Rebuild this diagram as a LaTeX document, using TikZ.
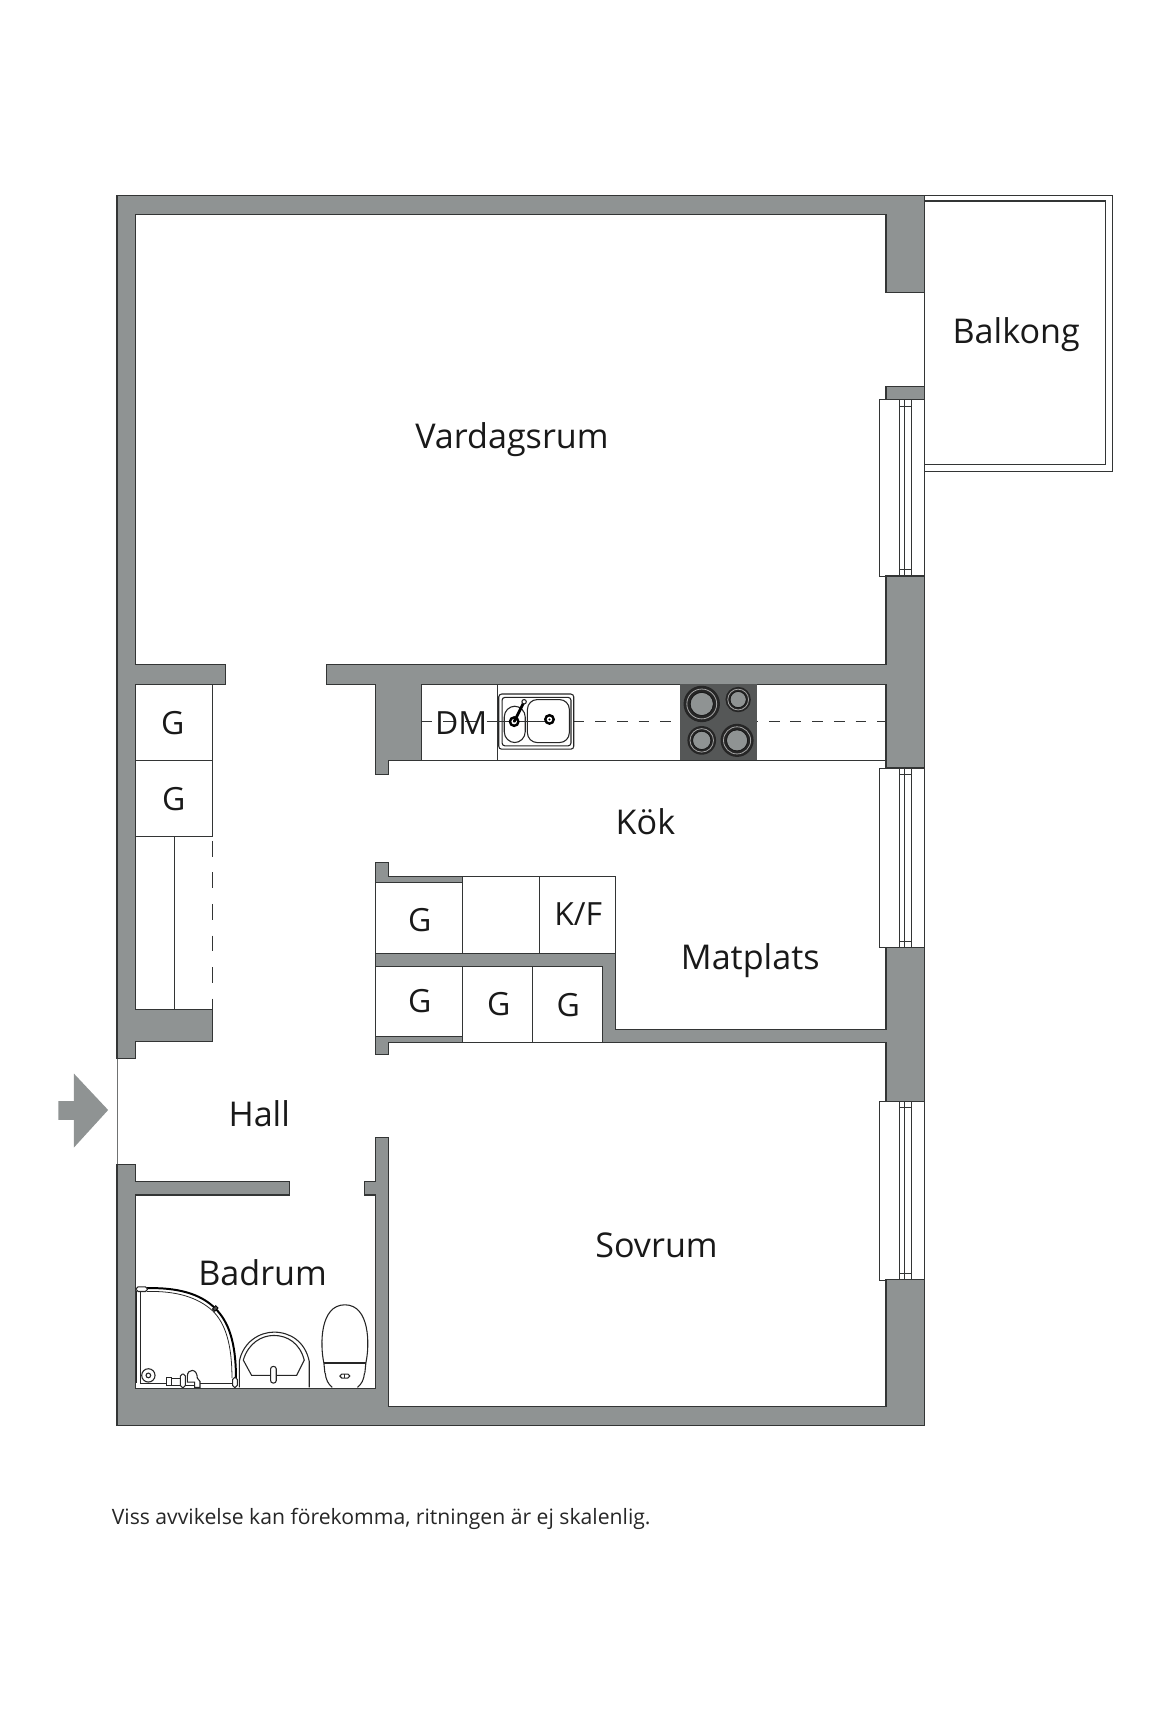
\documentclass[tikz,border=0pt]{standalone}
\usepackage{fontspec}
\setmainfont{Open Sans}
\definecolor{wallgray}{HTML}{8F9393}
\definecolor{wallline}{HTML}{333535}
\definecolor{hobdark}{HTML}{555757}
\tikzset{
  wall/.style={fill=wallgray,draw=wallline,line width=0.55pt,line join=miter},
  thinline/.style={draw=wallline,line width=0.5pt},
  fixture/.style={draw=black!85,line width=0.55pt},
  roomlabel/.style={font=\fontsize{17.3}{20}\selectfont,text=black!90,inner sep=0pt},
  cuplabel/.style={font=\fontsize{16.2}{20}\selectfont,text=black!90,inner sep=0pt},
  pane/.style={draw=wallline,line width=0.4pt,fill=white},
  winframe/.pic={
    \draw[pane] (-41,0) rectangle (0,#1);
    \draw[pane] (-23,0) rectangle (-12,#1);
    \draw[wallline,line width=0.4pt] (-18,0) -- (-18,#1);
    \draw[wallline,line width=0.4pt] (-23,6) -- (-12,6) (-23,#1-6) -- (-12,#1-6);
  },
  burner/.pic={
    \fill[black!85] (0,0) circle[radius=#1];
    \draw[black!35,line width=0.4pt] (0,0) circle[radius=#1*0.82];
    \fill[wallgray] (0,0) circle[radius=#1*0.62];
    \draw[black!90,line width=0.4pt] (0,0) circle[radius=#1*0.64];
  },
}
\begin{document}
\begin{tikzpicture}[x=0.5592pt,y=-0.5592pt]
\useasboundingbox (0,0) rectangle (1060.3,1567);
% balcony
\draw[thinline] (838,177) -- (1008,177) -- (1008,427) -- (838,427);
\draw[thinline,line width=0.7pt] (838,182) -- (1002,182) -- (1002,421) -- (838,421);
\draw[thinline] (838,177) -- (838,1292);
\draw[draw=wallline!70,line width=0.35pt] (106,959) -- (106,1055);
% windows
\pic at (838,362) {winframe=160};
\pic at (838,696) {winframe=163};
\pic at (838,998) {winframe=162};
% walls
\draw[wall] (106,959) -- (106,177) -- (838,177) -- (838,265) -- (803,265) -- (803,194) -- (123,194) -- (123,602) -- (204,602) -- (204,620) -- (123,620) -- (123,915) -- (193,915) -- (193,944) -- (123,944) -- (123,959) -- cycle;
\draw[wall] (803,350) -- (838,350) -- (838,362) -- (803,362) -- cycle;
\draw[wall] (296,602) -- (803,602) -- (803,522) -- (838,522) -- (838,696) -- (803,696) -- (803,620) -- (382,620) -- (382,689) -- (352,689) -- (352,702) -- (340,702) -- (340,620) -- (296,620) -- cycle;
\draw[wall] (838,859) -- (838,998) -- (803,998) -- (803,945) -- (546,945) -- (546,876) -- (340,876) -- (340,864) -- (558,864) -- (558,933) -- (803,933) -- (803,859) -- cycle;
\draw[wall] (340,782) -- (352,782) -- (352,794) -- (419,794) -- (419,800) -- (340,800) -- cycle;
\draw[wall] (340,939) -- (419,939) -- (419,945) -- (352,945) -- (352,956) -- (340,956) -- cycle;
\draw[wall] (106,1055) -- (123,1055) -- (123,1071) -- (262,1071) -- (262,1083) -- (123,1083) -- (123,1258) -- (340,1258) -- (340,1083) -- (330,1083) -- (330,1071) -- (340,1071) -- (340,1031) -- (352,1031) -- (352,1275) -- (803,1275) -- (803,1160) -- (838,1160) -- (838,1292) -- (106,1292) -- cycle;
% entrance arrow
\fill[wallgray] (53,998) -- (67,998) -- (67,973) -- (98,1006) -- (67,1040) -- (67,1015) -- (53,1015) -- cycle;
% hall closet
\draw[thinline] (193,620) -- (193,758);
\draw[thinline] (123,689) -- (193,689) (123,758) -- (193,758);
\draw[thinline] (158,758) -- (158,915);
\draw[thinline,dash pattern=on 8pt off 8pt] (193,762) -- (193,915);
% kitchen counter
\draw[thinline,dash pattern=on 5.5pt off 5.5pt] (382,654) -- (803,654);
\draw[thinline] (382,689) -- (803,689);
\draw[thinline] (382,620) -- (382,689) (451,620) -- (451,689);
\fill[hobdark] (616,620) rectangle (686,689);
\pic at (636,638) {burner=16.5};
\pic at (669,634) {burner=11.5};
\pic at (636,671) {burner=13};
\pic at (668,671) {burner=15};
% sink
\draw[fixture,fill=white,rounded corners=1.5pt] (452,629) rectangle (520,679);
\draw[fixture,rounded corners=1.5pt] (455,632) rectangle (517.5,676);
\draw[fixture,rounded corners=5pt] (478,634) rectangle (516,673);
\draw[fixture,rounded corners=5.5pt] (457,640) rectangle (476,673);
\draw[thinline] (451,654) -- (500,654);
\fill[black] (466,654) circle[radius=5];
\fill[white] (466,654) circle[radius=2.5];
\fill[black] (466,654) circle[radius=1];
\draw[black,line width=1.4pt] (466,654) -- (475,636);
\draw[fixture,fill=white] (475,636) circle[radius=2];
\fill[black] (498,652) circle[radius=5];
\fill[white] (498,652) circle[radius=2.5];
\fill[black] (498,652) circle[radius=1];
% cupboards
\draw[thinline,fill=white] (340,800) rectangle (419,864);
\draw[thinline,fill=white] (419,794) rectangle (489,864);
\draw[thinline,fill=white] (489,794) rectangle (558,864);
\draw[thinline,fill=white] (340,876) rectangle (419,939);
\draw[thinline,fill=white] (419,876) rectangle (483,945);
\draw[thinline,fill=white] (483,876) rectangle (546,945);
% bathroom fixtures (drawn in crop units)
\begin{scope}[shift={(90.7,1143.3)},x=0.1688pt,y=-0.1688pt]
  \draw[black,line width=1pt] (140,80) .. controls (230,78) and (300,95) .. (346,141) .. controls (385,180) and (408,240) .. (408,350);
  \draw[fixture,line width=0.4pt] (140,90) .. controls (225,88) and (290,105) .. (338,148) .. controls (375,185) and (396,245) .. (396,350);
  \draw[fixture] (110,90) -- (110,365) (120,92) -- (120,365) (120,365) -- (200,365) (300,365) -- (397,365);
  \draw[fixture,fill=white,rounded corners=1pt] (108,76) rectangle (142,90);
  \draw[fixture,fill=white,rounded corners=1pt] (398,348) rectangle (412,378);
  \draw[black,fill=black!70,line width=0.4pt,rotate around={45:(346,141)}] (339,136) rectangle (353,146);
  \draw[fixture] (145,342) circle[radius=20];
  \draw[fixture] (145,342) circle[radius=7];
  \draw[fixture,fill=white] (200,348) rectangle (215,372);
  \draw[fixture,fill=white] (215,350) rectangle (245,372);
  \draw[fixture,fill=white,rounded corners=1pt] (241,338) rectangle (256,378);
  \draw[fixture,fill=white] (262,345) .. controls (262,320) and (292,320) .. (292,350) -- (300,360) -- (300,378) -- (284,378) -- (284,362) -- (262,362) -- cycle;
  \draw[fixture] (256,372) -- (284,372);
  % basin
  \draw[fixture] (418,378) -- (418,300) .. controls (430,240) and (480,212) .. (522,212) .. controls (570,212) and (616,240) .. (628,300) -- (628,378);
  \draw[fixture] (430,296) .. controls (445,245) and (485,222) .. (522,222) .. controls (562,222) and (600,245) .. (613,296) -- (590,342) -- (455,342) -- cycle;
  \draw[fixture,fill=white,rounded corners=1.3pt] (512,315) rectangle (529,365);
  % toilet
  \draw[fixture] (672,305) .. controls (660,250) and (660,130) .. (735,130) .. controls (810,130) and (810,250) .. (798,305);
  \draw[fixture,line width=0.8pt] (672,305) -- (798,305);
  \draw[fixture] (672,305) -- (675,335) (795,335) -- (798,305);
  \draw[fixture] (676,335) .. controls (678,355) and (685,368) .. (697,378) (794,335) .. controls (792,355) and (785,368) .. (773,378);
  \draw[fixture,rounded corners=1pt] (720,338) rectangle (750,350);
  \draw[fixture] (735,338) -- (735,350);
\end{scope}
% labels
\node[roomlabel] (balkong) at (921,303) {Balkong};
\node[roomlabel] (vardag) at (464,398) {Vardagsrum};
\node[roomlabel] (kok) at (585,745) {Kök};
\node[roomlabel] (matplats) at (680,871) {Matplats};
\node[roomlabel] (hall) at (235,1009) {Hall};
\node[roomlabel] (sovrum) at (595,1129) {Sovrum};
\node[roomlabel] (badrum) at (238,1153) {Badrum};
\node[cuplabel] (dm) at (418,655) {DM};
\node[cuplabel] (g1) at (156.5,655) {G};
\node[cuplabel] (g2) at (157.5,724) {G};
\node[cuplabel] (g3) at (380.5,834) {G};
\node[cuplabel] (kf) at (524,828) {K/F};
\node[cuplabel] (g4) at (380.5,907) {G};
\node[cuplabel] (g5) at (452,910) {G};
\node[cuplabel] (g6) at (515,911) {G};
\node[anchor=west,inner sep=0pt,font=\fontsize{10.73}{12}\selectfont,text=black!85] (note) at (101,1377) {Viss avvikelse kan förekomma, ritningen är ej skalenlig.};
\end{tikzpicture}
\end{document}
